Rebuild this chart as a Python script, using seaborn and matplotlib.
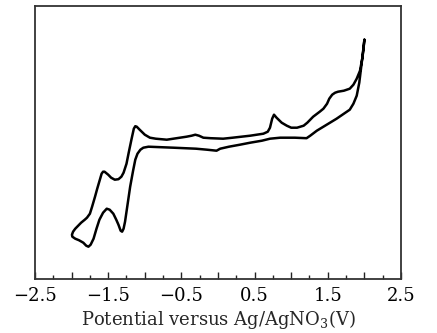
import matplotlib
matplotlib.use("Agg")
import matplotlib.pyplot as plt
import seaborn as sns
import pandas as pd
from matplotlib.ticker import MultipleLocator, FixedLocator

# Forward (upper) branch, read from the tip at 2.0 V going to the left
upper_potential = [2.00, 1.97, 1.94, 1.895, 1.85, 1.80, 1.72, 1.64, 1.60, 1.56, 1.52,
                   1.49, 1.44, 1.39, 1.30, 1.22, 1.17, 1.08, 1.00, 0.94, 0.87, 0.80,
                   0.765, 0.74, 0.71, 0.68, 0.62, 0.44, 0.20, 0.07, -0.10, -0.20,
                   -0.26, -0.31, -0.36, -0.43, -0.70, -0.85, -0.93, -1.00, -1.07,
                   -1.11, -1.13, -1.15, -1.18, -1.22, -1.25, -1.29, -1.32, -1.36,
                   -1.41, -1.46, -1.50, -1.55, -1.57, -1.59, -1.61, -1.65, -1.68,
                   -1.72, -1.75, -1.79, -1.82, -1.87, -1.91, -1.95, -1.98, -1.995]
upper_current = [2.39, 2.20, 2.08, 2.00, 1.94, 1.90, 1.88, 1.87, 1.86, 1.84, 1.80,
                 1.75, 1.70, 1.67, 1.62, 1.56, 1.53, 1.51, 1.51, 1.53, 1.56, 1.61,
                 1.64, 1.60, 1.51, 1.47, 1.45, 1.43, 1.41, 1.40, 1.405, 1.41,
                 1.43, 1.44, 1.43, 1.42, 1.39, 1.40, 1.41, 1.44, 1.49,
                 1.52, 1.525, 1.50, 1.40, 1.26, 1.15, 1.06, 1.02, 0.995,
                 0.99, 1.01, 1.04, 1.07, 1.07, 1.05, 1.00, 0.90, 0.82,
                 0.72, 0.65, 0.61, 0.59, 0.56, 0.53, 0.50, 0.47, 0.44]

# Return (lower) branch, from the left end back to the tip
lower_potential = [-1.99, -1.95, -1.90, -1.84, -1.80, -1.77, -1.74, -1.70, -1.66,
                   -1.62, -1.57, -1.52, -1.48, -1.43, -1.39, -1.36, -1.33, -1.31,
                   -1.29, -1.27, -1.24, -1.20, -1.16, -1.13, -1.10, -1.06, -1.02,
                   -0.95, -0.61, -0.30, -0.15, -0.02, 0.03, 0.15, 0.30, 0.44, 0.60,
                   0.71, 0.85, 1.05, 1.21, 1.26, 1.35, 1.44, 1.53, 1.62, 1.72, 1.80,
                   1.85, 1.895, 1.93, 1.96, 1.985, 2.00]
lower_current = [0.42, 0.40, 0.385, 0.36, 0.33, 0.32, 0.34, 0.40, 0.50,
                 0.59, 0.66, 0.70, 0.69, 0.65, 0.59, 0.54, 0.48, 0.47,
                 0.50, 0.57, 0.72, 0.92, 1.08, 1.19, 1.25, 1.29, 1.31,
                 1.32, 1.31, 1.30, 1.29, 1.28, 1.30, 1.32, 1.34, 1.36, 1.38,
                 1.40, 1.41, 1.41, 1.405, 1.43, 1.48, 1.52, 1.56, 1.60, 1.65, 1.69,
                 1.75, 1.83, 1.96, 2.14, 2.28, 2.39]

x_ticks = [-2.5, -2.0, -1.5, -1.0, -0.5, 0.0, 0.5, 1.0, 1.5, 2.0, 2.5]
x_tick_labels = ["\u22122.5", "", "\u22121.5", "", "\u22120.5", "", "0.5", "", "1.5", "", "2.5"]

df = pd.DataFrame({
    "potential": upper_potential + lower_potential,
    "current": upper_current + lower_current,
})

sns.set_style("ticks")
plt.rcParams["font.family"] = ["DejaVu Serif"]
plt.rcParams["mathtext.fontset"] = "dejavuserif"
plt.rcParams["lines.solid_joinstyle"] = "round"

fig = plt.figure(figsize=(4.37, 3.33), dpi=100)
ax = fig.add_axes([35 / 437, 1 - 278.7 / 333, (401 - 35) / 437, (278.7 - 6.3) / 333])

sns.lineplot(data=df, x="potential", y="current", sort=False, estimator=None,
             color="black", linewidth=1.8, ax=ax)

ax.set_xlim(-2.5, 2.5)
ax.set_ylim(0, 2.724)
ax.xaxis.set_major_locator(FixedLocator(x_ticks))
ax.set_xticklabels(x_tick_labels)
ax.xaxis.set_minor_locator(MultipleLocator(0.25))
ax.tick_params(axis="x", which="major", direction="in", length=5, width=1,
               labelsize=13, pad=6, colors="#222222", labelcolor="black")
ax.tick_params(axis="x", which="minor", direction="in", length=3, width=1, colors="#222222")
ax.set_yticks([])
ax.set_ylabel("")
ax.set_xlabel("Potential versus Ag/AgNO$_3$(V)", fontsize=13, labelpad=2)
for side in ["left", "right", "top", "bottom"]:
    ax.spines[side].set_visible(True)
    ax.spines[side].set_linewidth(1.3)
    ax.spines[side].set_color("#333333")

fig.savefig("out.png", dpi=100)
